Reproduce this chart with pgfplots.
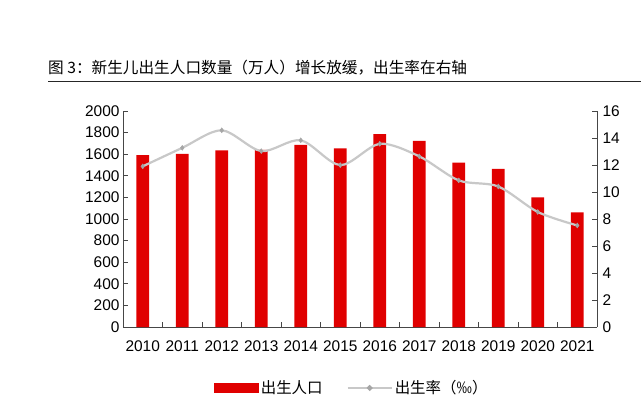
\documentclass[border=0pt]{standalone}
\usepackage{pgfplots}
\pgfplotsset{compat=1.18}
\usepackage{fontspec}
\setmainfont{Liberation Sans}
\newfontfamily\cjk{Noto Sans CJK SC}
\definecolor{barred}{RGB}{224,0,0}
\definecolor{linegray}{RGB}{200,200,200}
\definecolor{axgray}{RGB}{70,70,70}
\begin{document}
\begin{tikzpicture}[x=1bp,y=1bp]
\path[use as bounding box] (0,0) rectangle (641,417);
\node[anchor=base west, font=\cjk\fontsize{15.7}{18}\selectfont, inner sep=0] at (48,344) {图 3：新生儿出生人口数量（万人）增长放缓，出生率在右轴};
\draw[line width=1.6bp, black!85] (48,335.5) -- (641,335.5);
\begin{axis}[
  at={(123bp,90bp)}, anchor=south west, scale only axis,
  width=474bp, height=216bp,
  xmin=-0.5, xmax=11.5, ymin=0, ymax=2000,
  ytick={0,200,...,2000},
  xtick={0,...,11},
  xticklabels={2010,2011,2012,2013,2014,2015,2016,2017,2018,2019,2020,2021},
  major x tick style={draw=none},
  minor xtick={-0.5,0.5,...,11.5},
  axis x line*=bottom, axis y line*=left,
  tick align=inside, major tick length=5bp, minor tick length=5bp,
  axis line style={-, axgray, line width=0.8bp},
  every tick/.style={axgray, line width=0.8bp},
  ticklabel style={font=\fontsize{15.5}{18}\selectfont},
  xticklabel style={yshift=-10bp},
  /pgf/number format/assume math mode=true,
  /pgf/number format/1000 sep={},
]
\addplot[ybar, bar width=12.7bp, fill=barred, draw=none] coordinates {
(0,1592) (1,1604) (2,1635) (3,1640) (4,1687) (5,1655)
(6,1786) (7,1723) (8,1523) (9,1465) (10,1200) (11,1062)};
\end{axis}
\begin{axis}[
  at={(123bp,90bp)}, anchor=south west, scale only axis,
  width=474bp, height=216bp,
  xmin=-0.5, xmax=11.5, ymin=0, ymax=16,
  ytick={0,2,...,16},
  axis y line*=right, axis x line=none,
  tick align=inside, major tick length=5bp,
  axis line style={-, axgray, line width=0.8bp},
  every tick/.style={axgray, line width=0.8bp},
  ticklabel style={font=\fontsize{15.5}{18}\selectfont},
  yticklabel style={xshift=2bp},
  /pgf/number format/assume math mode=true,
  legend style={at={(0.483,-0.282)}, anchor=center, draw=none, fill=none,
    legend columns=2, font=\cjk\fontsize{15.5}{18}\selectfont,
    /tikz/every even column/.append style={column sep=22bp}},
]
\addlegendimage{legend image code/.code={\fill[barred] (0bp,-4.7bp) rectangle (44bp,4.7bp);}}
\addlegendentry{出生人口}
\addplot[linegray, line width=2.2bp, smooth, tension=0.5, mark=diamond*,
  mark size=2.4bp, mark options={fill=gray!70, draw=gray!70, line width=0.5bp},
  legend image code/.code={\draw[linegray, line width=2.2bp] (0bp,0bp) -- (44bp,0bp);
    \fill[gray!70] (22bp,0bp) circle (1.6bp);}]
  coordinates {
(0,11.90) (1,13.27) (2,14.57) (3,13.03) (4,13.83) (5,11.99)
(6,13.57) (7,12.64) (8,10.86) (9,10.41) (10,8.52) (11,7.52)};
\addlegendentry{出生率（‰）}
\end{axis}
\end{tikzpicture}
\end{document}
